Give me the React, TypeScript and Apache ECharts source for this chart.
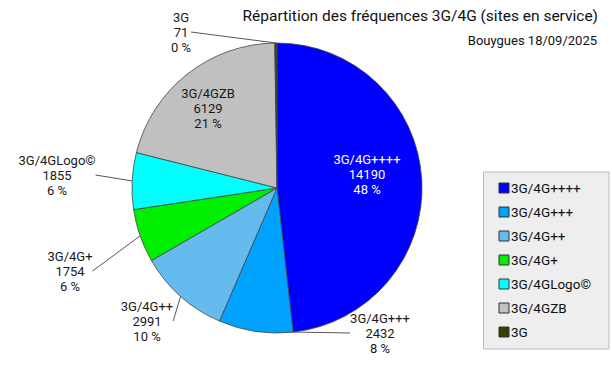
import React, { useEffect, useRef } from "react";
import * as echarts from "echarts";

const categories = ["3G/4G++++", "3G/4G+++", "3G/4G++", "3G/4G+", "3G/4GLogo©", "3G/4GZB", "3G"];
const values = [14190, 2432, 2991, 1754, 1855, 6129, 71];
const colors = ["#0000ff", "#00a2ff", "#66bbee", "#00ee00", "#00ffff", "#c0c0c0", "#334400"];
const insideLabels = [true, false, false, false, false, true, false];
const labelColors = ["#ffffff", "#1a1a1a", "#1a1a1a", "#1a1a1a", "#1a1a1a", "#1a1a1a", "#1a1a1a"];
// label block centres (layout only)
const labelCenters: [number, number][] = [
  [367, 174],
  [380, 333],
  [147, 321],
  [70, 271],
  [57, 175],
  [208, 108],
  [181, 32],
];

const FONT = "Roboto, 'Noto Sans', sans-serif";

export default function App() {
  const ref = useRef<HTMLDivElement>(null);
  useEffect(() => {
    if (!ref.current) return;
    const chart = echarts.init(ref.current, undefined, { renderer: "svg" });
    const data = categories.map((name, i) => ({
      name,
      value: values[i],
      itemStyle: { color: colors[i] },
      label: { position: insideLabels[i] ? "inside" : "outside", color: labelColors[i] },
      labelLine: { show: !insideLabels[i] },
    }));
    chart.setOption({
      animation: false,
      backgroundColor: "#ffffff",
      textStyle: { fontFamily: FONT },
      title: [
        {
          text: "Répartition des fréquences 3G/4G (sites en service)",
          right: 9,
          top: 3,
          textStyle: { fontFamily: FONT, fontSize: 15.5, fontWeight: "normal", color: "#111" },
        },
        {
          text: "Bouygues 18/09/2025",
          right: 10,
          top: 29,
          textStyle: { fontFamily: FONT, fontSize: 13, fontWeight: "normal", color: "#111" },
        },
      ],
      legend: {
        orient: "vertical",
        right: 3,
        top: 172,
        data: categories,
        backgroundColor: "#eeeeee",
        borderColor: "#bbbbbb",
        borderWidth: 1,
        borderRadius: 0,
        padding: [9, 18, 10, 15],
        itemWidth: 10,
        itemHeight: 10,
        itemGap: 10,
        icon: "rect",
        itemStyle: { borderColor: "#333", borderWidth: 1 },
        textStyle: { fontFamily: FONT, fontSize: 13.5, color: "#111", padding: [0, 0, 0, -3] },
      },
      series: [
        {
          type: "pie",
          center: [277, 188],
          radius: 145,
          startAngle: 90,
          clockwise: true,
          avoidLabelOverlap: false,
          itemStyle: { borderColor: "#444", borderWidth: 0.8 },
          label: {
            fontFamily: FONT,
            fontSize: 13,
            lineHeight: 15,
            formatter: (p: any) =>
              `{c|${p.name}}\n{c|${p.value}}\n{c|${Math.round(p.percent)} %}`,
            rich: { c: { align: "center", fontSize: 13, lineHeight: 15, fontFamily: FONT } },
          },
          labelLine: { length: 12, length2: 0, lineStyle: { color: "#555", width: 1 } },
          labelLayout: (params: any) => {
            const c = labelCenters[params.dataIndex];
            return { x: c[0], y: c[1], align: "center", verticalAlign: "middle" };
          },
          emphasis: { disabled: true },
          data,
        },
      ],
    });
    return () => chart.dispose();
  }, []);
  return (
    <div
      ref={ref}
      style={{ position: "fixed", left: 0, top: 0, width: 612, height: 377 }}
    />
  );
}
